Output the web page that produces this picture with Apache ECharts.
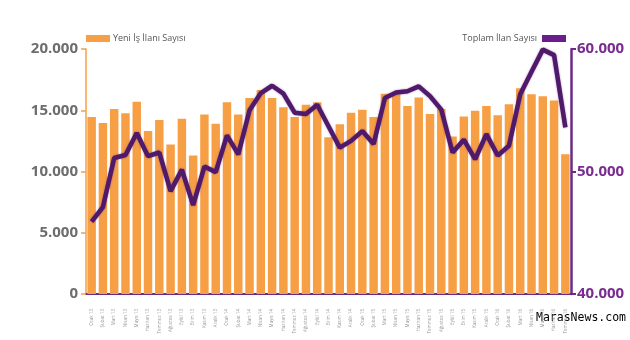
<!DOCTYPE html>
<html><head><meta charset="utf-8">
<script src="https://cdn.jsdelivr.net/npm/echarts@6/dist/echarts.min.js"></script>
<style>html,body{margin:0;padding:0;background:#fff}#c{width:630px;height:340px}</style>
</head><body><div id="c"></div>
<script>
const months = ['Ocak','Şubat','Mart','Nisan','Mayıs','Haziran','Temmuz','Ağustos','Eylül','Ekim','Kasım','Aralık'];
const categories = [];
for (const y of ['13','14','15','16']) for (const m of months) categories.push(m + ' ' + y);
categories.length = 43;
const newJobs = [14450,13950,15100,14750,15700,13300,14200,12200,14300,11300,14650,13900,15650,14650,16000,
  16650,16000,15250,14450,15450,15650,12800,13850,14800,15050,14450,16350,16300,15350,
  16050,14700,15100,12850,14500,14950,15350,14600,15500,16800,16300,16150,15800,11400];
const totalJobs = [45900,47100,51100,51350,53150,51250,51550,48400,50150,47250,50400,49950,52950,51400,55000,
  56400,57000,56350,54800,54700,55450,53700,51950,52500,53300,52250,56000,56450,56550,
  56950,56150,55050,51550,52600,51000,53050,51300,52100,56300,58150,59950,59500,53600];
const leftTicks = [0,5000,10000,15000,20000];
const rightTicks = [40000,50000,60000];
const fmt = v => v === 0 ? '0' : String(v).replace(/\B(?=(\d{3})+(?!\d))/g, '.');
const orange = '#F79F45', purple = '#4F1A6A', axisPurple = '#6B2A88', gray = '#6d6d6d';
const chart = echarts.init(document.getElementById('c'));
chart.setOption({
  animation: false,
  grid: {left: 86, right: 59, top: 49, bottom: 46},
  legend: [
    {data: [{name: 'Yeni İş İlanı Sayısı', icon: 'rect'}], left: 81, top: 29, itemWidth: 24, itemHeight: 7, itemGap: 4,
     textStyle: {fontFamily: 'Open Sans', fontSize: 9, color: '#555', padding: [0, 0, 0, -2]}},
    {data: [{name: 'Toplam İlan Sayısı', icon: 'rect'}], right: 59, top: 29, itemWidth: 24, itemHeight: 7, align: 'right',
     textStyle: {fontFamily: 'Open Sans', fontSize: 9, color: '#555'}}
  ],
  xAxis: {
    type: 'category', data: categories,
    axisLine: {lineStyle: {color: axisPurple, width: 2}},
    axisTick: {inside: true, length: 4, lineStyle: {color: axisPurple}},
    axisLabel: {rotate: 90, fontSize: 4.5, color: '#999', fontFamily: 'Open Sans', margin: 15, interval: 0}
  },
  yAxis: [
    {type: 'value', min: 0, max: 20000, interval: 5000,
     axisLine: {show: true, lineStyle: {color: orange, width: 1.5}},
     axisTick: {show: true, length: 5, lineStyle: {color: orange, width: 1.5}},
     splitLine: {show: false},
     axisLabel: {formatter: fmt, fontFamily: 'Open Sans', fontWeight: 'bold', fontSize: 15, color: gray, margin: 8}},
    {type: 'value', min: 40000, max: 60000, interval: 10000, position: 'right',
     axisLine: {show: true, lineStyle: {color: axisPurple, width: 2.5}},
     axisTick: {show: true, length: 5, lineStyle: {color: axisPurple, width: 2}},
     splitLine: {show: false},
     axisLabel: {formatter: fmt, fontFamily: 'Open Sans', fontWeight: 'bold', fontSize: 15, color: '#7A2C90', margin: 6}}
  ],
  series: [
    {name: 'Yeni İş İlanı Sayısı', type: 'bar', data: newJobs, yAxisIndex: 0, barCategoryGap: '25%',
     itemStyle: {color: orange}},
    {name: 'Toplam İlan Sayısı', type: 'line', data: totalJobs, yAxisIndex: 1, symbol: 'none',
     lineStyle: {color: purple, width: 4.5, shadowColor: 'rgba(110,40,140,0.6)', shadowBlur: 2},
     itemStyle: {color: '#6A1E8C'}}
  ],
  graphic: [
    {type: 'text', left: 536, top: 312, style: {text: 'MarasNews.com', fontFamily: 'DejaVu Sans Mono', fontSize: 11.5, fill: '#000'}}
  ]
});
</script></body></html>
